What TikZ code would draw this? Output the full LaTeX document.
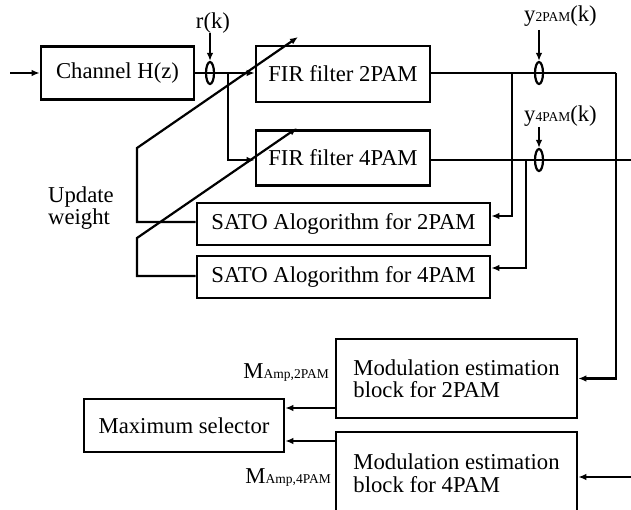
\documentclass[tikz,border=0pt]{standalone}
\usepackage{fontspec}
\setmainfont{Liberation Serif}
\usetikzlibrary{arrows.meta,shapes.geometric}
\newcommand{\sbs}[1]{{\fontsize{13.5}{14}\selectfont #1}}
\begin{document}
\begin{tikzpicture}[x=1pt,y=-1pt,
  txt/.style={font=\fontsize{22.7}{22.5}\selectfont},
  box/.style={txt,draw,line width=2.6pt,inner sep=0pt},
  conn/.style={line width=2.2pt},
  arr/.style={conn,-{Latex[length=8pt,width=6.5pt]}},
  oval/.style={draw,ellipse,line width=2.2pt,minimum width=8pt,minimum height=22pt,inner sep=0pt},
  lbl/.style={txt,inner sep=0pt}]
\useasboundingbox (0,0) rectangle (631,510);
\clip (0,0) rectangle (631,510);
% blocks
\node[box,minimum width=153pt,minimum height=53pt] (ch) at (117.5,73) {Channel H(z)};
\node[box,minimum width=174pt,minimum height=56pt] (fir2) at (343,74) {FIR filter 2PAM};
\node[box,minimum width=174pt,minimum height=55pt] (fir4) at (343,158) {FIR filter 4PAM};
\node[box,minimum width=293pt,minimum height=42pt] (sato2) at (343.5,224) {SATO Alogorithm for 2PAM};
\node[box,minimum width=293pt,minimum height=42pt] (sato4) at (343.5,277) {SATO Alogorithm for 4PAM};
\node[box,minimum width=241pt,minimum height=79pt,align=left] (mod2) at (456.5,378.5) {Modulation estimation\\block for 2PAM};
\node[box,minimum width=241pt,minimum height=82pt,align=left] (mod4) at (456.5,473) {Modulation estimation\\block for 4PAM};
\node[box,minimum width=200pt,minimum height=53pt] (max) at (184,425.5) {Maximum selector};
% labels
\node[lbl,anchor=base] (rk) at (213,29) {r(k)};
\node[lbl,anchor=base west] (y2) at (524,22) {y\sbs{2PAM}(k)};
\node[lbl,anchor=base west] (y4) at (524,122) {y\sbs{4PAM}(k)};
\node[lbl,anchor=base east] (m2) at (329,378) {M\sbs{Amp,2PAM}};
\node[lbl,anchor=base east] (m4) at (331,483) {M\sbs{Amp,4PAM}};
\node[lbl,anchor=north west,align=left] (upd) at (48,187) {Update\\[-1pt]weight};
% coordinates
\coordinate (in) at (10,73);
\coordinate (b1) at (228,73);
\coordinate (c2) at (616,73);
\coordinate (b2) at (512,73);
\coordinate (c4) at (631,160);
\coordinate (b4) at (526,160);
\coordinate (in4) at (631,477);
\coordinate (k1) at (137,148);
\coordinate (t1) at (298,37);
\coordinate (k2) at (137,238);
\coordinate (t2) at (297,128);
% connectors
\draw[arr] (in) -- (ch.west);
\draw[arr] (ch.east) -- (fir2.west |- ch.east);
\draw[arr] (b1) |- (fir4.west |- b4);
\draw[conn] (fir2.east |- c2) -- (c2);
\draw[arr] (c2) |- (mod2.east);
\draw[arr] (b2) |- ([yshift=8pt]sato2.east);
\draw[conn] (fir4.east |- c4) -- (c4);
\draw[arr] (b4) |- ([yshift=9pt]sato4.east);
\draw[arr] (in4) -- (mod4.east |- in4);
\draw[arr] ([yshift=-29.5pt]mod2.west) -- (max.east |- 0,408);
\draw[arr] ([yshift=32pt]mod4.west) -- (max.east |- 0,441);
\draw[arr] ([yshift=2pt]sato2.west) -| (k1) -- (t1);
\draw[arr] ([yshift=1pt]sato4.west) -| (k2) -- (t2);
% taps
\node[oval,fill=white] (r) at (210,73) {};
\node[oval,fill=white] (o2) at (539,73) {};
\node[oval,fill=white] (o4) at (539,160) {};
\draw[conn] (r.west) -- (r.east);
\draw[conn] (o2.west) -- (o2.east);
\draw[conn] (o4.west) -- (o4.east);
\draw[arr] (r.north |- 0,33) -- (r.north);
\draw[arr] (o2.north |- 0,30) -- (o2.north);
\draw[arr] (o4.north |- 0,127) -- (o4.north);
\end{tikzpicture}
\end{document}
